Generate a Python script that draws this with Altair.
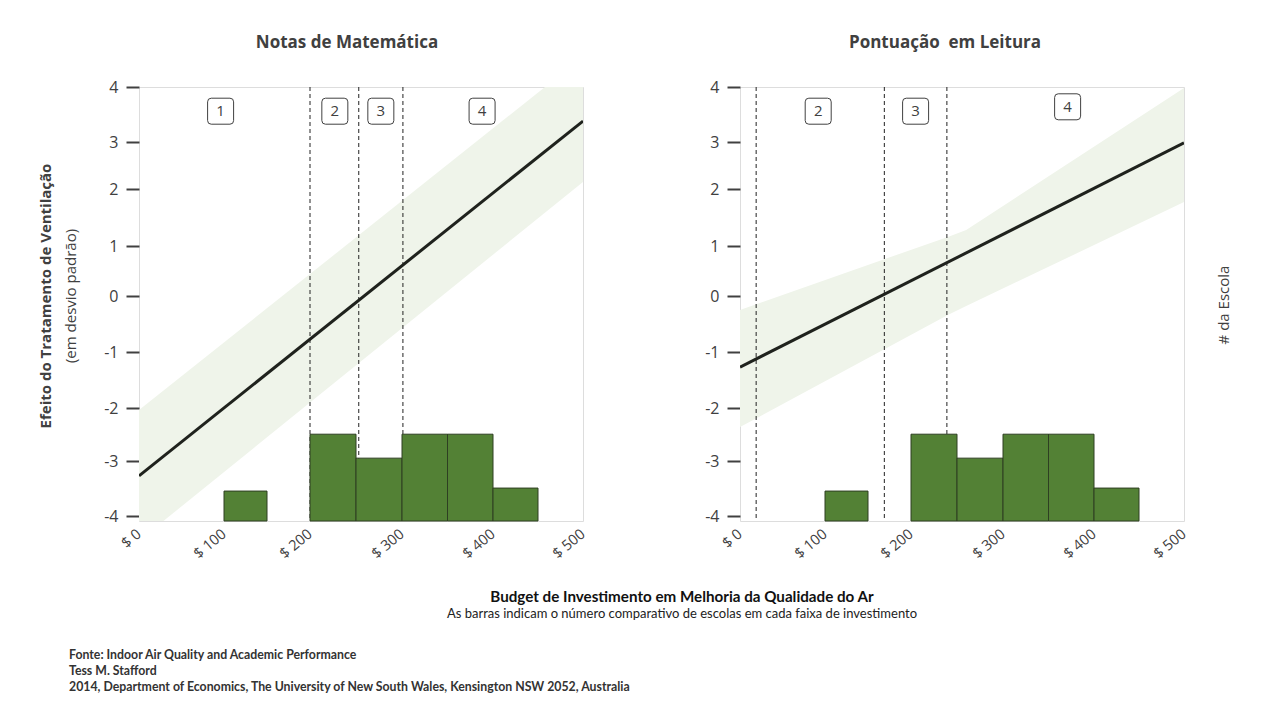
import altair as alt
import pandas as pd

# ---------------- data ----------------
Y_TICKS = [-4, -3, -2, -1, 0, 1, 2, 3, 4]
X_TICKS = [0, 100, 200, 300, 400, 500]

# histogram of schools per investment range (same in both panels)
bin_start = [100, 200, 250, 300, 350, 400]
bin_end = [150, 250, 300, 350, 400, 450]
school_count = [10, 29, 21, 29, 29, 11]

# Matemática
math_line_x = [0, 500]
math_line_y = [-3.27, 3.38]
math_band_x = [0, 500]
math_band_lo = [-4.45, 2.15]
math_band_hi = [-2.04, 4.55]
math_cuts = [200, 253, 301]
math_box_x = [96, 227, 277, 388]
math_box_y = [3.56, 3.56, 3.56, 3.56]
math_box_lbl = ["1", "2", "3", "4"]

# Leitura
read_line_x = [0, 500]
read_line_y = [-1.27, 2.98]
read_band_x = [0, 240, 260, 500]
read_band_lo = [-2.36, -0.34, -0.18, 1.77]
read_band_hi = [-0.25, 1.16, 1.28, 3.98]
read_cuts = [19, 169, 239]
read_box_x = [92, 205, 371]
read_box_y = [3.56, 3.56, 3.64]
read_box_lbl = ["2", "3", "4"]

TITLE_MATH = "Notas de Matemática"
TITLE_READ = "Pontuação\u00a0 em Leitura"
Y_TITLE_BOLD = "Efeito do Tratamento de Ventilação"
Y_TITLE_SUB = "(em desvio padrão)"
RIGHT_TITLE = "# da Escola"
X_TITLE = "Budget de Investimento em Melhoria da Qualidade do Ar"
X_SUB = "As barras indicam o número comparativo de escolas em cada faixa de investimento"
FOOTER = [
    "Fonte: Indoor Air Quality and Academic Performance",
    "Tess M. Stafford",
    "2014, Department of Economics,  The University of New South Wales, Kensington  NSW 2052, Australia",
]

# ---------------- style ----------------
W, H = 444, 434
GRAY = "#404040"
FONT = "Open Sans"
FOOT_FONT = "Lato"

yscale = alt.Scale(domain=Y_TICKS, range=[429, 374, 321, 265, 209, 159, 102, 55, 0],
                   nice=False, zero=False)
xscale = alt.Scale(domain=X_TICKS, range=[0, 85, 171, 263, 354, 444], nice=False, zero=False)

x_axis = alt.Axis(values=X_TICKS, labelExpr="'$ ' + datum.value", title=None, ticks=False,
                  domain=False, grid=False, labelAngle=320, labelAlign="right",
                  labelBaseline="middle", labelPadding=11, labelFontSize=14.5,
                  labelColor=GRAY, labelFont=FONT)
y_axis = alt.Axis(values=Y_TICKS, labelExpr="'' + datum.value", title=None, grid=False,
                  domain=False, tickSize=13, tickWidth=2, tickColor=GRAY, labelPadding=8,
                  labelFontSize=16, labelColor=GRAY, labelFont=FONT)

ROUND_BOX = ("M -0.72,-1 L 0.72,-1 Q 1,-1 1,-0.72 L 1,0.72 Q 1,1 0.72,1 L -0.72,1 "
             "Q -1,1 -1,0.72 L -1,-0.72 Q -1,-1 -0.72,-1 Z")

one = pd.DataFrame({"a": [0]})


def panel(line_x, line_y, band_x, band_lo, band_hi, cuts, box_x, box_y, box_lbl, title, dx):
    band = alt.Chart(pd.DataFrame({"x": band_x, "lo": band_lo, "hi": band_hi})).mark_area(
        color="#eff4ea", clip=True
    ).encode(
        x=alt.X("x:Q", scale=xscale, axis=x_axis),
        y=alt.Y("lo:Q", scale=yscale, axis=y_axis),
        y2="hi:Q",
    )
    rules = alt.Chart(pd.DataFrame({"x": cuts})).mark_rule(
        color="#222222", strokeWidth=1, strokeDash=[4, 3]
    ).encode(x=alt.X("x:Q", scale=xscale))
    line = alt.Chart(pd.DataFrame({"x": line_x, "y": line_y})).mark_line(
        color="#1f221d", strokeWidth=3, clip=True
    ).encode(x=alt.X("x:Q", scale=xscale), y=alt.Y("y:Q", scale=yscale))
    bdf = pd.DataFrame({"x": box_x, "y": box_y, "t": box_lbl})
    boxes = alt.Chart(bdf).mark_point(
        shape=ROUND_BOX, size=676, filled=True, fill="white", stroke=GRAY,
        strokeWidth=1, opacity=1
    ).encode(x=alt.X("x:Q", scale=xscale), y=alt.Y("y:Q", scale=yscale))
    box_txt = alt.Chart(bdf).mark_text(
        font=FONT, fontSize=15, color=GRAY, baseline="middle", align="center"
    ).encode(x=alt.X("x:Q", scale=xscale), y=alt.Y("y:Q", scale=yscale), text="t:N")

    effect = alt.layer(band, rules, line, boxes, box_txt)

    hist = alt.Chart(pd.DataFrame({"s": bin_start, "e": bin_end, "n": school_count})).mark_rect(
        color="#538135", stroke="#2e3f22", strokeWidth=1, opacity=1
    ).encode(
        x=alt.X("s:Q", scale=xscale),
        x2="e:Q",
        y=alt.Y("n:Q", scale=alt.Scale(domain=[0, 145], nice=False), axis=None),
        y2=alt.datum(0),
    )
    return alt.layer(effect, hist).resolve_scale(y="independent").properties(
        width=W, height=H,
        title=alt.TitleParams(title, font=FONT, fontSize=17, fontWeight="bold",
                              color=GRAY, offset=27, anchor="middle", dx=dx),
    )


left = panel(math_line_x, math_line_y, math_band_x, math_band_lo, math_band_hi, math_cuts,
             math_box_x, math_box_y, math_box_lbl, TITLE_MATH, -14)

ytitle1 = alt.Chart(one).mark_text(
    text=Y_TITLE_BOLD, angle=270, font=FONT, fontSize=15, fontWeight="bold", color=GRAY,
    align="center", baseline="middle"
).encode(x=alt.value(-93), y=alt.value(209))
ytitle2 = alt.Chart(one).mark_text(
    text=Y_TITLE_SUB, angle=270, font=FONT, fontSize=15, color=GRAY,
    align="center", baseline="middle"
).encode(x=alt.value(-68), y=alt.value(209))
xtitle = alt.Chart(one).mark_text(
    text=X_TITLE, font=FOOT_FONT, fontSize=15.2, fontWeight="bold", color="#111111",
    align="center", baseline="middle"
).encode(x=alt.value(543), y=alt.value(510))
xsub = alt.Chart(one).mark_text(
    text=X_SUB, font=FOOT_FONT, fontSize=13, color="#222222",
    align="center", baseline="middle"
).encode(x=alt.value(543), y=alt.value(527))
footer = alt.Chart(one).mark_text(
    text=FOOTER, font=FOOT_FONT, fontSize=12.3, fontWeight="bold", color="#333333",
    align="left", baseline="middle", lineHeight=16
).encode(x=alt.value(-70), y=alt.value(568))

left_full = alt.layer(left, ytitle1, ytitle2, xtitle, xsub, footer)

right = panel(read_line_x, read_line_y, read_band_x, read_band_lo, read_band_hi, read_cuts,
              read_box_x, read_box_y, read_box_lbl, TITLE_READ, -17)
rtitle = alt.Chart(one).mark_text(
    text=RIGHT_TITLE, angle=270, font=FONT, fontSize=15, color=GRAY,
    align="center", baseline="middle"
).encode(x=alt.value(484), y=alt.value(218))
right_full = alt.layer(right, rtitle)

chart = alt.hconcat(left_full, right_full, spacing=157, bounds="flush").properties(
    padding={"left": 30, "top": 25, "right": 5, "bottom": 5}
).configure_view(stroke=GRAY, strokeWidth=1).configure(background="white")

chart.save("out.html", embed_options={"renderer": "svg", "actions": False})
